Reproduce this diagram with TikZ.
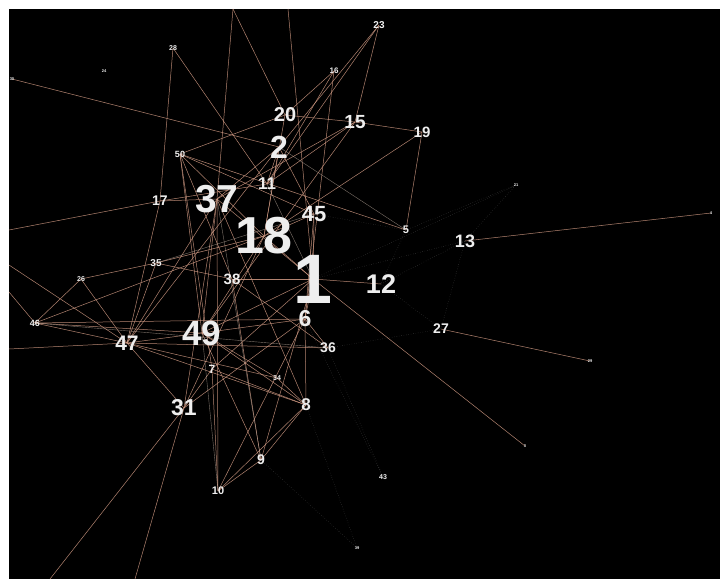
\documentclass[tikz,border=0pt]{standalone}
\usepackage{fontspec}
\setmainfont{Liberation Sans}
\usetikzlibrary{backgrounds}
\definecolor{tiecol}{RGB}{210,155,132}
\definecolor{palecol}{RGB}{225,205,190}
\definecolor{numcol}{RGB}{238,238,238}
\pgfdeclarelayer{ground}
\pgfdeclarelayer{ties}
\pgfsetlayers{ground,ties,main}
\tikzset{
    num/.style={text=numcol, inner sep=0pt, font=\fontsize{#1}{#1}\selectfont\bfseries},
    tie/.style={draw=tiecol, line width=0.5pt, opacity=0.85},
    pale/.style={draw=palecol, line width=0.4pt, opacity=0.55},
    faint/.style={draw=white, line width=0.4pt, dotted, opacity=0.3}
}

\begin{document}
\begin{tikzpicture}[x=1pt, y=-1pt]
    \useasboundingbox (0,0) rectangle (720,579);
    \begin{pgfonlayer}{ground}
        \fill[white] (0,0) rectangle (720,579);
        \fill[black] (9,9) rectangle (720,579);
    \end{pgfonlayer}

    % vertices: id / x / y / font size
    \foreach \id/\x/\y/\s in {
        1/313/279/70, 18/264/236/52, 37/217/199/39, 49/202/333/35,
        2/279/147/32, 12/381/284/27, 45/314/214/22, 6/305/319/23,
        20/285/115/20, 15/355/122/19, 31/184/408/23, 47/127/343/21,
        13/465/241/18, 19/422/132/15, 11/267/184/17, 17/160/201/14,
        36/328/348/14, 27/441/329/14, 8/306/405/17, 9/261/460/14,
        38/232/279/15, 7/212/369/12, 5/406/230/11, 10/218/491/11,
        35/156/263/10, 50/180/154/9, 46/35/323/9, 23/379/25/10,
        16/334/71/8, 28/173/48/7, 26/81/279/7, 34/277/378/7,
        43/383/477/7, 24/104/71/4, 21/516/185/4, 4/711/213/4,
        29/590/361/4, 3/525/446/4, 39/357/548/4, 30/12/79/4}
        \node[num=\s] (n\id) at (\x,\y) {\id};

    % free ends leaving the frame
    \coordinate (nt1) at (233,9);
    \coordinate (nt2) at (288,9);
    \coordinate (nb1) at (50,579);
    \coordinate (nb2) at (135,579);
    \coordinate (nl1) at (9,230);
    \coordinate (nl2) at (9,265);
    \coordinate (nl3) at (9,292);
    \coordinate (nl4) at (9,349);

    \begin{pgfonlayer}{ties}
        \foreach \a/\b in {
            2/18, 2/37, 2/11, 2/45, 2/47, 20/15, 15/19, 20/50, 20/18,
            15/11, 15/37, 15/49, 16/11, 16/20, 16/6, 23/15, 23/11, 23/2,
            19/18, 19/5, 50/5, 50/45, 50/18, 50/49, 50/7, 50/38,
            17/11, 28/17, 17/47, 17/37, 28/11, 30/2, 37/47, 37/49,
            37/31, 37/10, 37/8, 37/1, 18/35, 18/31, 18/45, 18/1,
            18/49, 18/46, 45/1, 45/6, 1/12, 1/38, 1/6, 1/3, 1/49,
            1/9, 1/7, 38/35, 38/9, 38/36, 35/26, 35/47, 26/46,
            26/47, 46/49, 46/47, 46/6, 47/49, 47/36, 47/8, 47/34,
            47/31, 49/6, 49/8, 49/9, 49/34, 7/31, 7/10, 7/8, 31/6,
            10/9, 10/8, 10/6, 9/8, 6/36, 6/8, 8/34, 13/4, 27/29,
            31/b1, 31/b2, l1/17, l2/47, l3/46, l4/47, t1/37, t1/20, t2/1}
            \draw[tie] (n\a.center) -- (n\b.center);
        \foreach \a/\b in {
            46/36, 35/45, 2/5, 11/1, 10/49, 9/37}
            \draw[pale] (n\a.center) -- (n\b.center);
        \foreach \a/\b in {
            12/13, 45/5, 1/13, 12/27, 13/27, 5/12, 6/43, 8/39,
            36/43, 1/21, 5/21, 13/21, 9/39, 36/27}
            \draw[faint] (n\a.center) -- (n\b.center);
    \end{pgfonlayer}
\end{tikzpicture}
\end{document}
